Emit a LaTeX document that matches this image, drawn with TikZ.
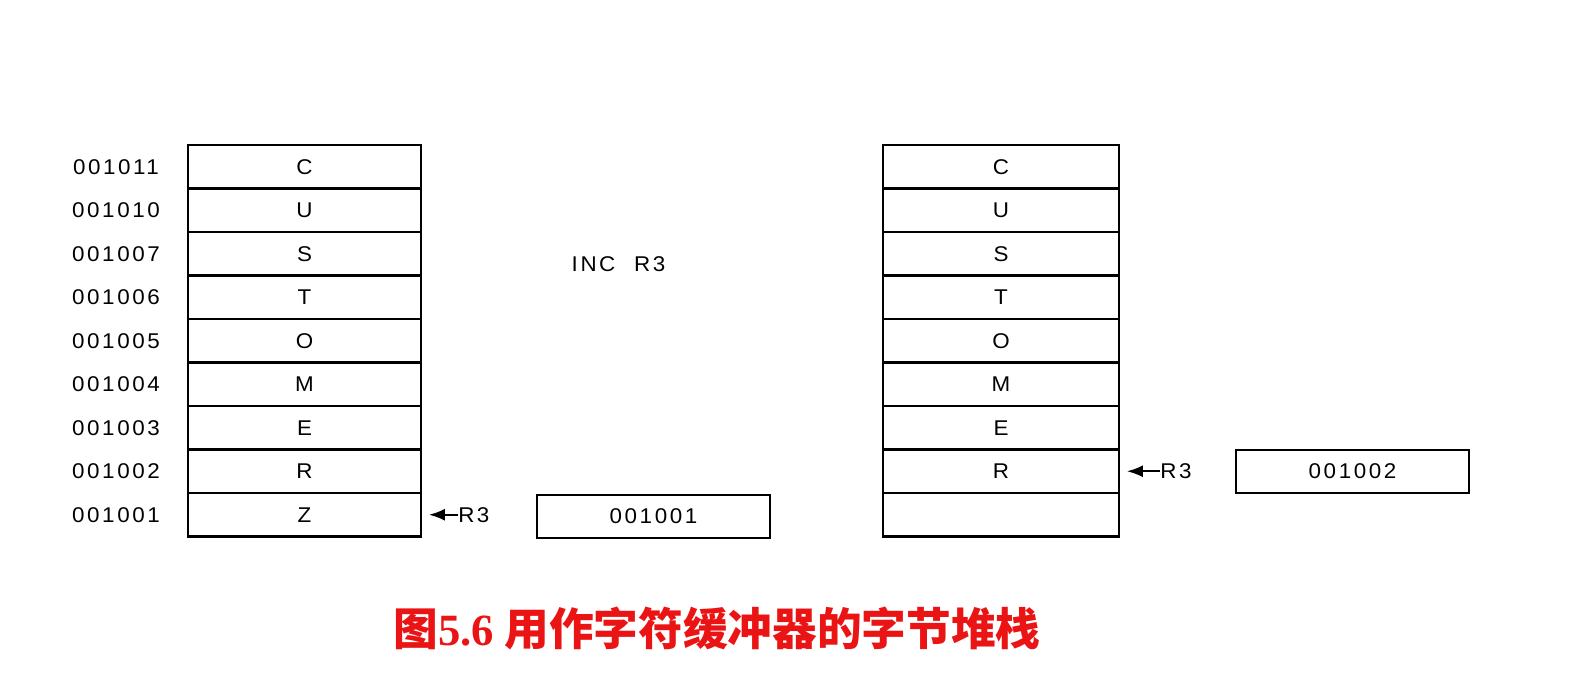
\documentclass[tikz,border=0pt]{standalone}
\usepackage{fontspec}
\usetikzlibrary{arrows.meta}
\newfontfamily\lblfont[FakeStretch=1.05,LetterSpace=12]{Liberation Sans}
\newfontfamily\cjkfont{Noto Sans CJK SC}
\newfontfamily\capserif{Liberation Serif}
\definecolor{capred}{RGB}{235,20,20}
\begin{document}
\begin{tikzpicture}[x=0.75pt,y=-0.75pt,
  cell/.style={draw,line width=1.8pt,minimum width=174.75pt,minimum height=32.6pt,inner sep=0pt,font=\lblfont\fontsize{16}{18}\selectfont},
  regbox/.style={draw,line width=1.8pt,minimum width=174.75pt,minimum height=32.25pt,inner sep=0pt,font=\lblfont\fontsize{16}{18}\selectfont},
  addr/.style={inner sep=0pt,font=\lblfont\fontsize{16}{18}\selectfont},
  ptr/.style={line width=1.6pt,-{Latex[length=12pt,width=9pt]},shorten >=5pt},
  captext/.style={inner sep=0pt,text=capred,font=\cjkfont\bfseries\fontsize{33.5}{36}\selectfont}]
\useasboundingbox (0,0) rectangle (1596,684);
% left stack
\foreach \i/\a/\t in {1/001011/C,2/001010/U,3/001007/S,4/001006/T,5/001005/O,6/001004/M,7/001003/E,8/001002/R,9/001001/Z}{
  \node[cell] (L\i) at (304.5,{145+43.5*(\i-0.5)}) {\t};
  \node[addr] (A\i) at (116,{145+43.5*(\i-0.5)}) {\a};
}
% right stack
\foreach \i/\t in {1/C,2/U,3/S,4/T,5/O,6/M,7/E,8/R,9/{}}{
  \node[cell,minimum width=177pt] (R\i) at (1001,{145+43.5*(\i-0.5)}) {\t};
}
% registers
\node[regbox] (reg1) at (653.5,516.5) {001001};
\node[regbox] (reg2) at (1352.5,471.5) {001002};
% pointers
\node[addr,anchor=west] (p1) at (458,514.75) {R3};
\draw[ptr] (p1.west) -- (L9.east);
\node[addr,anchor=west] (p2) at (1160,471.25) {R3};
\draw[ptr] (p2.west) -- (R8.east);
% instruction
\node[addr] (inc) at (618.5,264) {INC\hspace{14pt}R3};
% caption
\node[captext] (cap) at (717,628) {图{\capserif\bfseries 5.6} 用作字符缓冲器的字节堆栈};
\end{tikzpicture}
\end{document}
